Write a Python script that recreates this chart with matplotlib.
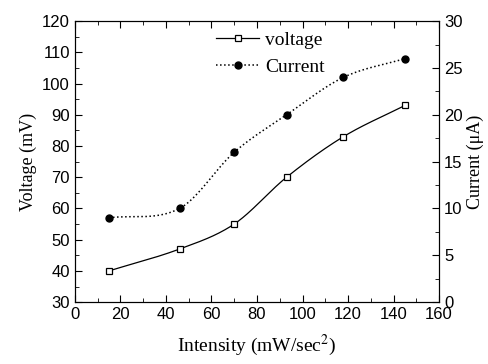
import numpy as np
import matplotlib
matplotlib.use("Agg")
import matplotlib.pyplot as plt
from matplotlib.ticker import MultipleLocator

intensity = [15, 46, 70, 93, 118, 145]
voltage = [40, 47, 55, 70, 83, 93]
current = [9, 10, 16, 20, 24, 26]


def smooth(x, y, n=200):
    # cubic hermite with centred-difference slopes, only for the drawn line
    x = np.asarray(x, float)
    y = np.asarray(y, float)
    h = np.diff(x)
    m = np.zeros(len(x))
    m[1:-1] = (y[2:] - y[:-2]) / (x[2:] - x[:-2])
    m[0] = (y[1] - y[0]) / h[0]
    m[-1] = (y[-1] - y[-2]) / h[-1]
    xs = np.linspace(x[0], x[-1], n)
    j = np.clip(np.searchsorted(x, xs) - 1, 0, len(x) - 2)
    t = (xs - x[j]) / h[j]
    h00 = 2 * t**3 - 3 * t**2 + 1
    h10 = t**3 - 2 * t**2 + t
    h01 = -2 * t**3 + 3 * t**2
    h11 = t**3 - t**2
    ys = h00 * y[j] + h10 * h[j] * m[j] + h01 * y[j + 1] + h11 * h[j] * m[j + 1]
    return xs, ys


serif = "Liberation Serif"
sans = "Liberation Sans"
plt.rcParams["mathtext.fontset"] = "stix"

fig = plt.figure(figsize=(4.89, 3.64), dpi=100)
ax = fig.add_axes([0.153, 0.170, 0.745, 0.772])
ax2 = ax.twinx()

xs, ys = smooth(intensity, voltage)
ax.plot(xs, ys, "-", color="black", lw=0.9)
ax.plot(intensity, voltage, "s", mfc="white", mec="black", ms=4.5, mew=0.9)

xs, ys = smooth(intensity, current)
ax2.plot(xs, ys, ":", color="black", lw=1.1)
ax2.plot(intensity, current, "o", color="black", ms=5)

# legend handles
hv, = ax.plot([], [], "-s", color="black", mfc="white", ms=4.5, lw=0.9, mew=0.9)
hc, = ax.plot([], [], ":o", color="black", ms=5, lw=1.1)
ax.legend([hv, hc], ["voltage", "Current"], loc="upper left",
          bbox_to_anchor=(0.34, 1.025), frameon=False, handlelength=2.2,
          handletextpad=0.3, labelspacing=0.45,
          prop={"family": serif, "size": 14})

ax.set_xlim(0, 160)
ax.set_ylim(30, 120)
ax2.set_ylim(0, 30)

ax.xaxis.set_major_locator(MultipleLocator(20))
ax.xaxis.set_minor_locator(MultipleLocator(10))
ax.yaxis.set_major_locator(MultipleLocator(10))
ax.yaxis.set_minor_locator(MultipleLocator(5))
ax2.yaxis.set_major_locator(MultipleLocator(5))
ax2.yaxis.set_minor_locator(MultipleLocator(2.5))

ax.tick_params(which="both", direction="in", top=True, right=False, labelsize=12)
ax.tick_params(which="major", length=5)
ax.tick_params(which="minor", length=3)
ax2.tick_params(which="major", direction="in", length=5, labelsize=12)
ax2.tick_params(which="minor", direction="in", length=3)
for a in (ax, ax2):
    for lab in a.get_xticklabels() + a.get_yticklabels():
        lab.set_family(sans)

ax.set_xlabel("Intensity (mW/sec$^2$)", family=serif, size=14, labelpad=8)
ax.set_ylabel("Voltage (mV)", family=serif, size=13, labelpad=4)
ax2.set_ylabel("Current (\u03bcA)", family=serif, size=13, labelpad=3)

fig.savefig("out.png", dpi=100)
